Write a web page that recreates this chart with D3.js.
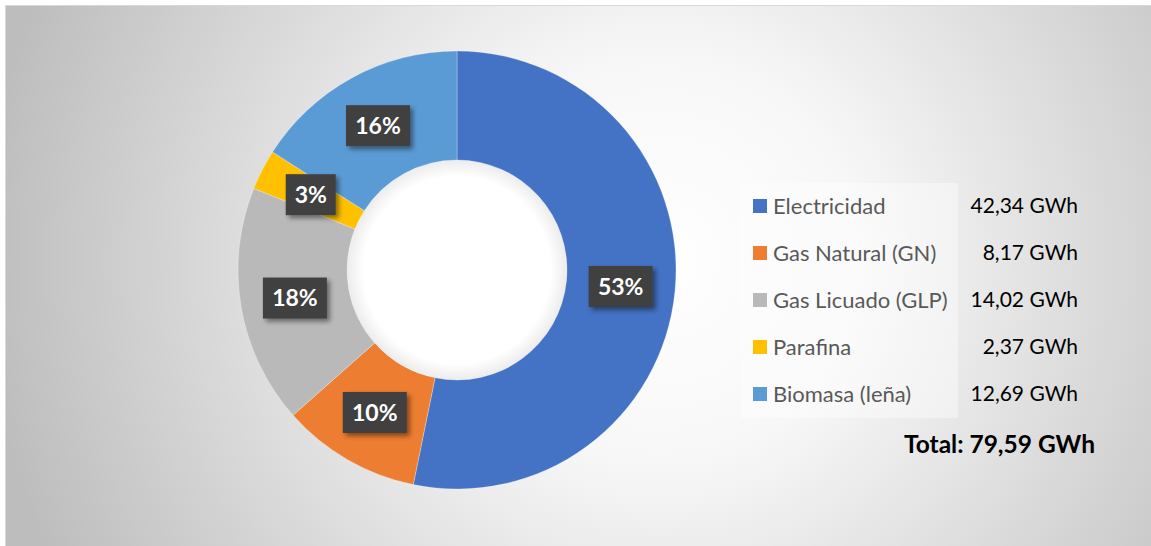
<!DOCTYPE html>
<html><head><meta charset="utf-8">
<script src="https://cdn.jsdelivr.net/npm/d3@7"></script>
<style>html,body{margin:0;padding:0;background:#fff;}svg{display:block;}</style>
</head><body>
<svg id="chart" width="1151" height="546"></svg>
<script>
const categories = ["Electricidad", "Gas Natural (GN)", "Gas Licuado (GLP)", "Parafina", "Biomasa (leña)"];
const values = [42.34, 8.17, 14.02, 2.37, 12.69];
const valueLabels = ["42,34 GWh", "8,17 GWh", "14,02 GWh", "2,37 GWh", "12,69 GWh"];
const percentLabels = ["53%", "10%", "18%", "3%", "16%"];
const totalLabel = "Total: 79,59 GWh";
const colors = ["#4472C4", "#ED7D31", "#B9B9B9", "#FFC000", "#5B9BD5"];

const W = 1151, H = 546;
const FONT = "Lato, 'Open Sans', sans-serif";
const svg = d3.select("#chart");
const defs = svg.append("defs");

const bg = defs.append("radialGradient").attr("id","bg")
  .attr("gradientUnits","userSpaceOnUse").attr("cx",660).attr("cy",260).attr("r",680);
bg.append("stop").attr("offset","0").attr("stop-color","#ffffff");
bg.append("stop").attr("offset","0.3").attr("stop-color","#f7f7f7");
bg.append("stop").attr("offset","1").attr("stop-color","#bdbdbd");

const sh = defs.append("filter").attr("id","shadow").attr("x","-30%").attr("y","-30%").attr("width","170%").attr("height","170%");
sh.append("feDropShadow").attr("dx",3).attr("dy",3).attr("stdDeviation",2.5).attr("flood-color","#000").attr("flood-opacity",0.45);

const hole = defs.append("radialGradient").attr("id","hole").attr("cx","0.5").attr("cy","0.5").attr("r","0.5");
hole.append("stop").attr("offset","0.85").attr("stop-color","#ffffff");
hole.append("stop").attr("offset","1").attr("stop-color","#ececec");

svg.append("rect").attr("x",5.5).attr("y",5.5).attr("width",W).attr("height",H)
  .attr("fill","url(#bg)").attr("stroke","#d9d9d9").attr("stroke-width",1);

const cx = 457, cy = 270, rOuter = 219, rInner = 110;
const g = svg.append("g").attr("transform",`translate(${cx},${cy})`);
const data = categories.map((c,i)=>({cat:c, value:values[i], i}));
const pie = d3.pie().value(d=>d.value).sort(null);
const arcs = pie(data);
const arc = d3.arc().innerRadius(rInner).outerRadius(rOuter);

g.append("circle").attr("r",rInner).attr("fill","url(#hole)");
g.selectAll("path.slice").data(arcs).join("path").attr("class","slice")
  .attr("d",arc).attr("fill",d=>colors[d.data.i])
  .attr("stroke","rgba(255,255,255,0.35)").attr("stroke-width",0.8);

const lg = g.selectAll("g.lbl").data(arcs).join("g").attr("class","lbl")
  .attr("transform",d=>{const c=arc.centroid(d);return `translate(${c[0]},${c[1]})`;});
lg.each(function(d){
  const s = d3.select(this);
  const txt = percentLabels[d.data.i];
  const w = txt.length===2 ? 50 : 64, h = 41;
  s.append("rect").attr("x",-w/2).attr("y",-h/2).attr("width",w).attr("height",h)
    .attr("fill","#404040").attr("filter","url(#shadow)");
  s.append("text").attr("text-anchor","middle").attr("dy","0.36em")
    .attr("font-family",FONT).attr("font-weight","bold").attr("font-size",23)
    .attr("fill","#ffffff").text(txt);
});

// legend
const legX = 741, legY = 183, legW = 217, legH = 235;
svg.append("rect").attr("x",legX).attr("y",legY).attr("width",legW).attr("height",legH)
  .attr("fill","#ffffff").attr("fill-opacity",0.4);
const rowY = d3.scalePoint().domain(categories).range([206, 394]);
const leg = svg.append("g");
categories.forEach((c,i)=>{
  const y = rowY(c);
  leg.append("rect").attr("x",753).attr("y",y-7).attr("width",14).attr("height",14).attr("fill",colors[i]);
  leg.append("text").attr("x",773).attr("y",y).attr("dy","0.35em")
    .attr("font-family",FONT).attr("font-size",22).attr("fill","#595959").text(c);
  leg.append("text").attr("x",1078).attr("y",y).attr("dy","0.35em").attr("text-anchor","end")
    .attr("font-family",FONT).attr("font-size",21).attr("fill","#000000").text(valueLabels[i]);
});
svg.append("text").attr("x",1095).attr("y",444).attr("dy","0.35em").attr("text-anchor","end")
  .attr("font-family",FONT).attr("font-weight","bold").attr("font-size",24.5).attr("fill","#000").text(totalLabel);
</script>
</body></html>
